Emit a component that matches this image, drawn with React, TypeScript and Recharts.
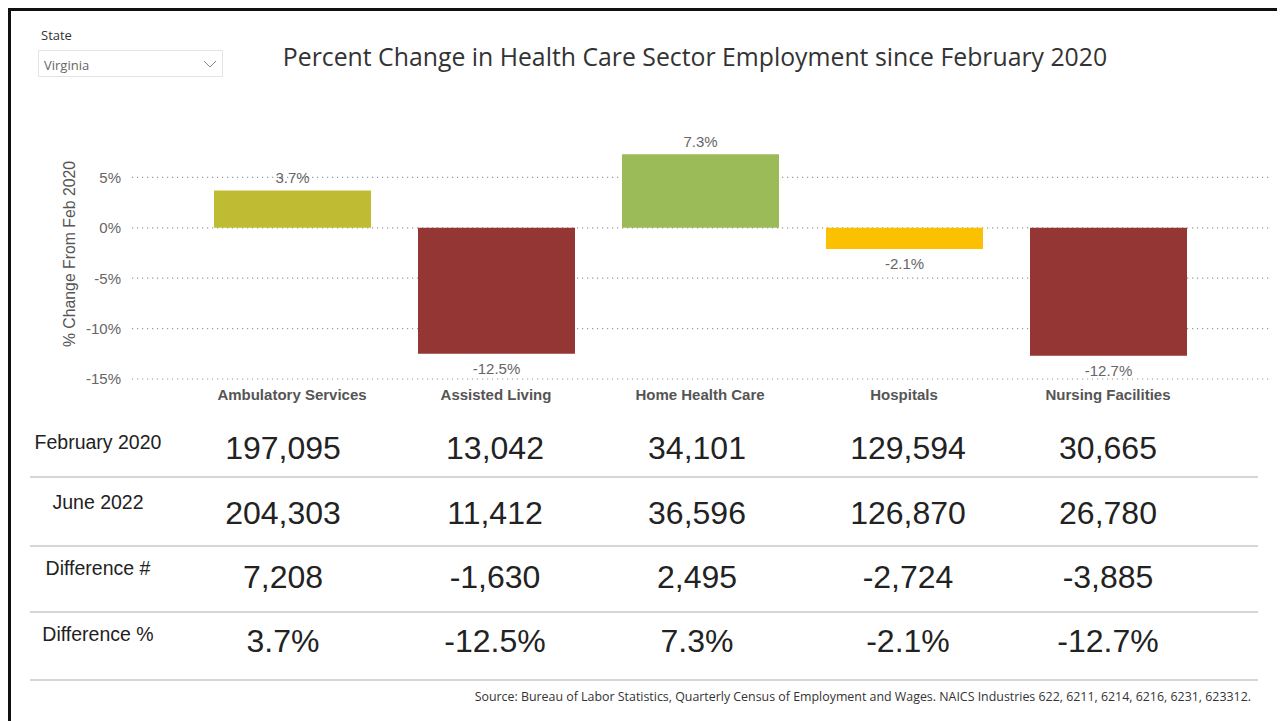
import React from 'react';
import { BarChart, Bar, XAxis, YAxis, CartesianGrid, Cell, LabelList, Label } from 'recharts';

const categories = ['Ambulatory Services', 'Assisted Living', 'Home Health Care', 'Hospitals', 'Nursing Facilities'];
const pctChange = [3.7, -12.5, 7.3, -2.1, -12.7];
const barColors = ['#BFBC33', '#943634', '#9BBB59', '#FBC000', '#943634'];
const yTicks = [-15, -10, -5, 0, 5];

const feb2020 = [197095, 13042, 34101, 129594, 30665];
const jun2022 = [204303, 11412, 36596, 126870, 26780];
const diffNum = [7208, -1630, 2495, -2724, -3885];
const diffPct = [3.7, -12.5, 7.3, -2.1, -12.7];
const rowLabels = ['February 2020', 'June 2022', 'Difference #', 'Difference %'];

const chartData = categories.map((c, i) => ({ name: c, value: pctChange[i] }));

const ARIAL = '"Liberation Sans", Arial, sans-serif';
const SEGOE = '"Open Sans", "Noto Sans", sans-serif';

const fmtNum = (v: number) => v.toLocaleString('en-US');
const fmtPct = (v: number) => `${v.toFixed(1)}%`;

const tableCols = [283, 495, 697, 908, 1108];
const rowCenters = [448, 513, 577, 641];
const labelCenters = [442, 502, 568, 634];
const lineYs = [477, 546, 612, 680];

const renderBarLabel = (props: any) => {
  const { x, y, width, height, value } = props;
  const top = Math.min(y, y + height);
  const bottom = Math.max(y, y + height);
  const cx = x + width / 2;
  const ty = value >= 0 ? top - 13 : bottom + 15;
  return (
    <text x={cx} y={ty} textAnchor="middle" dominantBaseline="central" fill="#666" fontSize={15} fontFamily={ARIAL}>
      {fmtPct(value)}
    </text>
  );
};

const renderYLabel = (props: any) => {
  const vb = props.viewBox || {};
  const cx = (vb.x || 0) + 61;
  const cy = (vb.y || 0) + (vb.height || 0) / 2 + 1;
  return (
    <text x={cx} y={cy} transform={`rotate(-90 ${cx} ${cy})`} textAnchor="middle" dominantBaseline="central" fill="#555" fontSize={15.8} fontFamily={ARIAL}>
      % Change From Feb 2020
    </text>
  );
};

export default function App() {
  const rows = [feb2020.map(fmtNum), jun2022.map(fmtNum), diffNum.map(fmtNum), diffPct.map(fmtPct)];
  // container at page (8,8): page coords minus 8
  const P = (v: number) => v - 8;
  return (
    <div style={{ position: 'relative', width: 1277, height: 713, background: '#fff', overflow: 'hidden' }}>
      <div style={{ position: 'absolute', left: 0, top: 0, width: 1277, height: 3, background: '#111' }} />
      <div style={{ position: 'absolute', left: 0, top: 0, width: 3, height: 713, background: '#111' }} />

      <div style={{ position: 'absolute', left: P(41), top: P(35) - 9, fontFamily: SEGOE, fontSize: 13, color: '#333', lineHeight: '18px' }}>State</div>
      <div style={{ position: 'absolute', left: P(38), top: P(50), width: 185, height: 27, border: '1px solid #e4e4e4', boxSizing: 'border-box' }}>
        <div style={{ position: 'absolute', left: 5, top: 5, fontFamily: SEGOE, fontSize: 13, color: '#666', lineHeight: '18px' }}>Virginia</div>
        <svg style={{ position: 'absolute', left: 164, top: 8 }} width={14} height={10}>
          <polyline points="1,2 7,8 13,2" fill="none" stroke="#888" strokeWidth={1} />
        </svg>
      </div>

      <div style={{ position: 'absolute', left: P(195), width: 1000, top: P(56) - 17, textAlign: 'center', fontFamily: SEGOE, fontSize: 24.8, color: '#333', lineHeight: '34px', whiteSpace: 'nowrap' }}>
        Percent Change in Health Care Sector Employment since February 2020
      </div>

      <div style={{ position: 'absolute', left: 0, top: 0 }}>
        <BarChart width={1277} height={410} data={chartData} margin={{ top: 119, right: 15, bottom: 0, left: 0 }}>
          <CartesianGrid vertical={false} horizontalValues={yTicks} stroke="#999" strokeWidth={1.2} strokeDasharray="1.2 3.8" />
          <XAxis
            dataKey="name"
            axisLine={false}
            tickLine={false}
            height={39}
            padding={{ left: 58, right: 60 }}
            interval={0}
            tickMargin={4}
            tick={{ fill: '#555', fontSize: 15, fontWeight: 'bold', fontFamily: ARIAL }}
          />
          <YAxis
            width={124}
            domain={[-15, 10]}
            ticks={yTicks}
            allowDataOverflow
            axisLine={false}
            tickLine={false}
            tickMargin={5}
            tickFormatter={(v: number) => `${v}%`}
            tick={{ fill: '#666', fontSize: 15, fontFamily: ARIAL }}
          >
            <Label content={renderYLabel} />
          </YAxis>
          <Bar dataKey="value" barSize={157} isAnimationActive={false}>
            {chartData.map((d, i) => (
              <Cell key={d.name} fill={barColors[i]} />
            ))}
            <LabelList dataKey="value" content={renderBarLabel} />
          </Bar>
        </BarChart>
      </div>

      {rowLabels.map((lab, r) => (
        <div key={lab} style={{ position: 'absolute', left: P(98) - 90, width: 180, top: P(labelCenters[r]) - 12, textAlign: 'center', fontFamily: ARIAL, fontSize: 19.5, color: '#222', lineHeight: '24px' }}>
          {lab}
        </div>
      ))}
      {rows.map((vals, r) =>
        vals.map((v, c) => (
          <div key={`${r}-${c}`} style={{ position: 'absolute', left: P(tableCols[c]) - 100, width: 200, top: P(rowCenters[r]) - 20, textAlign: 'center', fontFamily: ARIAL, fontSize: 32, color: '#222', lineHeight: '40px' }}>
            {v}
          </div>
        ))
      )}
      {lineYs.map((y) => (
        <div key={y} style={{ position: 'absolute', left: P(30), width: 1228, top: P(y) - 1, height: 2, background: '#d6d6d6' }} />
      ))}

      <div style={{ position: 'absolute', right: 1277 - P(1251), top: P(697) - 9, fontFamily: SEGOE, fontSize: 12.4, color: '#333', lineHeight: '18px', whiteSpace: 'nowrap' }}>
        Source: Bureau of Labor Statistics, Quarterly Census of Employment and Wages. NAICS Industries 622, 6211, 6214, 6216, 6231, 623312.
      </div>
    </div>
  );
}
